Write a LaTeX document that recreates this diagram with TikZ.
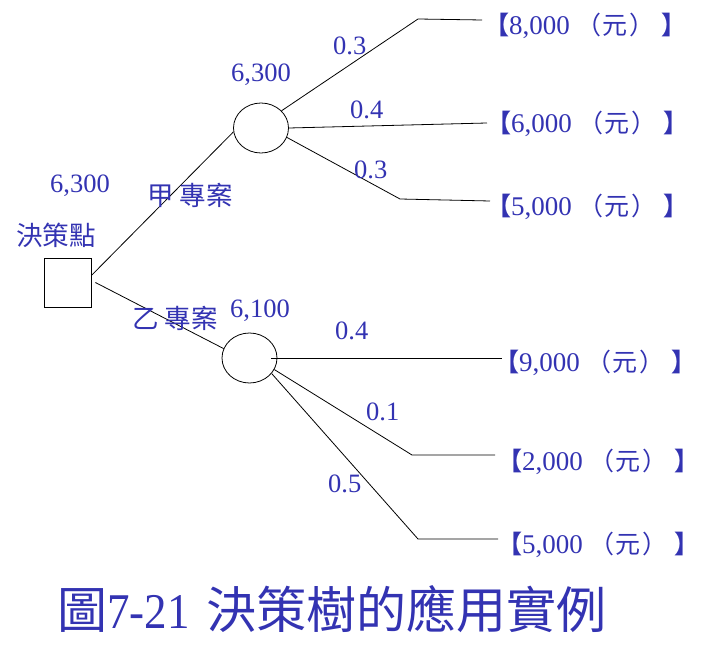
\documentclass[tikz,border=0pt]{standalone}
\usepackage{fontspec}
\setmainfont{Liberation Serif}
\newfontfamily\cjk{Noto Sans CJK TC}
\usetikzlibrary{shapes.geometric}
\definecolor{lblue}{RGB}{51,51,178}
\tikzset{
  numlbl/.style={text=lblue, inner sep=0pt, anchor=base west, font=\fontsize{26.5}{30}\selectfont},
  cjklbl/.style={text=lblue, inner sep=0pt, anchor=west, font=\fontsize{26.5}{30}\selectfont\cjk},
  reslbl/.style={text=lblue, inner sep=0pt, anchor=base west, font=\fontsize{25}{30}\selectfont},
  titlelbl/.style={text=lblue, inner sep=0pt, anchor=base west, font=\fontsize{50}{60}\selectfont},
  chance/.style={draw, ellipse, minimum width=55pt, minimum height=50pt, inner sep=0pt, line width=0.8pt},
  decision/.style={draw, rectangle, minimum width=47pt, minimum height=49pt, inner sep=0pt, line width=0.8pt},
  branch/.style={line width=0.8pt}
}
\newcommand{\resval}[1]{{\cjk\bfseries 【}{\fontsize{27}{30}\selectfont #1}\hspace{7pt}{\cjk （}\hspace{1pt}{\cjk 元}\hspace{1.5pt}{\cjk ）}\hspace{7pt}{\cjk\bfseries 】}}
\begin{document}
\begin{tikzpicture}[x=1pt,y=-1pt]
\useasboundingbox (0,0) rectangle (715,668);
% nodes
\node[decision] (d) at (67.5,282.5) {};
\node[chance] (c1) at (261,128) {};
\node[chance] (c2) at (249.5,358) {};
% bend and end points
\coordinate (b1) at (418,19);  \coordinate (e1) at (482,20);
\coordinate (e2) at (487,123);
\coordinate (b3) at (400,199); \coordinate (e3) at (490,201);
\coordinate (e4) at (502,358);
\coordinate (b5) at (412,455); \coordinate (e5) at (495,455);
\coordinate (b6) at (418,539); \coordinate (e6) at (498,539);
% connectors
\draw[branch] ([yshift=7pt]d.east) -- (c1.188);
\draw[branch] ([xshift=4pt]d.east) -- (c2.160);
\draw[branch] (c1.40) -- (b1) -- (e1);
\draw[branch] (c1.east) -- (e2);
\draw[branch] (c1.-20) -- (b3) -- (e3);
\draw[branch] ([xshift=-6pt]c2.east) -- (e4);
\draw[branch] (c2.-25) -- (b5) -- (e5);
\draw[branch] (c2.-35) -- (b6) -- (e6);
% labels
\node[cjklbl] (ldp) at (16,235) {決策點};
\node[numlbl] (v0) at (50,193) {6,300};
\node[cjklbl] (la) at (147,195) {甲 專案};
\node[cjklbl] (lb) at (132,318) {乙 專案};
\node[numlbl] (v1) at (231,82) {6,300};
\node[numlbl] (v2) at (230,318) {6,100};
\node[numlbl] (p1) at (333,55) {0.3};
\node[numlbl] (p2) at (350,119) {0.4};
\node[numlbl] (p3) at (354,179) {0.3};
\node[numlbl] (p4) at (335,340) {0.4};
\node[numlbl] (p5) at (366,420) {0.1};
\node[numlbl] (p6) at (328,492) {0.5};
\node[reslbl] (r1) at (484,35) {\resval{8,000}};
\node[reslbl] (r2) at (486,133) {\resval{6,000}};
\node[reslbl] (r3) at (486,216) {\resval{5,000}};
\node[reslbl] (r4) at (494,371) {\resval{9,000}};
\node[reslbl] (r5) at (497,470) {\resval{2,000}};
\node[reslbl] (r6) at (497,553) {\resval{5,000}};
\node[titlelbl] (t) at (57,628) {{\cjk 圖}\scalebox{0.9}[1]{7-21}\hspace{17pt}{\cjk 決策樹的應用實例}};
\end{tikzpicture}
\end{document}
